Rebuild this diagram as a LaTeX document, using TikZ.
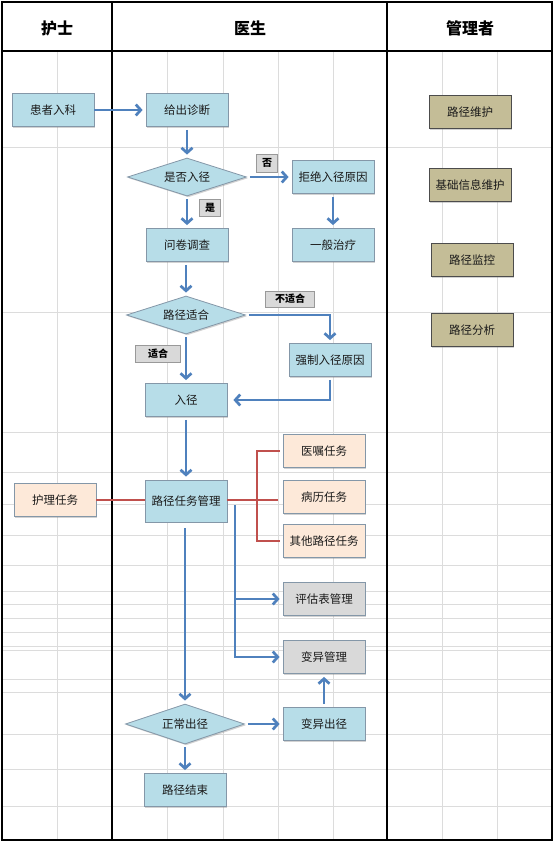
\documentclass[tikz,border=0pt]{standalone}
\usepackage{fontspec}
\setmainfont{Noto Sans CJK SC}
\usetikzlibrary{arrows.meta,shapes.geometric,shadows}
\definecolor{boxblue}{HTML}{B7DDE8}
\definecolor{boxpeach}{HTML}{FDE9D9}
\definecolor{boxgrey}{HTML}{D9D9D9}
\definecolor{boxkhaki}{HTML}{C4BD97}
\definecolor{boxborder}{HTML}{8497A8}
\definecolor{arrowblue}{HTML}{4F81BD}
\definecolor{redline}{HTML}{C0504D}
\definecolor{gridgrey}{HTML}{DCDCDC}
\definecolor{txt}{HTML}{1A1A1A}
\begin{document}
\begin{tikzpicture}[x=1pt,y=-1pt,
  box/.style={draw=boxborder, line width=0.8pt, minimum width=82pt, minimum height=33pt,
    inner sep=0pt, text=txt, font=\fontsize{11.5}{13}\selectfont,
    drop shadow={shadow xshift=1.3pt,shadow yshift=-1.3pt,opacity=0.35}},
  bluebox/.style={box, fill=boxblue},
  peachbox/.style={box, fill=boxpeach},
  greybox/.style={box, fill=boxgrey},
  khakibox/.style={box, fill=boxkhaki, draw=gray!60!black},
  dia/.style={diamond, aspect=3, draw=boxborder, line width=0.8pt, fill=boxblue,
    minimum width=119pt, minimum height=38pt, inner sep=0pt, text=txt,
    font=\fontsize{11.5}{13}\selectfont,
    drop shadow={shadow xshift=1.3pt,shadow yshift=-1.3pt,opacity=0.35}},
  lab/.style={draw=gray!80, line width=0.6pt, fill=boxgrey, text=black,
    font=\bfseries\fontsize{10}{12}\selectfont, inner sep=0pt, minimum height=17pt},
  arr/.style={draw=arrowblue, line width=2.7pt, -{Straight Barb[length=5pt,width=11pt]},
    shorten <=3pt, shorten >=3pt},
  redl/.style={draw=redline, line width=2.2pt},
  hdr/.style={font=\bfseries\fontsize{16}{18}\selectfont, text=black},
  grid/.style={draw=gridgrey, line width=0.8pt}
]
\useasboundingbox (0,0) rectangle (554,843);
\fill[white] (0,0) rectangle (554,843);

% spreadsheet grid
\foreach \gx in {57,167,223,278,333,442,497}
  \draw[grid] (\gx,51) -- (\gx,840);
\foreach \gy in {147,312,432,472,504,535,565,591,604,618,632,646,650,679,692,734,769,806}
  \draw[grid] (2,\gy) -- (552,\gy);

% frame
\draw[line width=1.8pt, black] (2,2) rectangle (552,840);
\draw[line width=1.8pt, black] (2,51) -- (552,51);
\draw[line width=1.8pt, black] (112,2) -- (112,840);
\draw[line width=1.8pt, black] (387,2) -- (387,840);

% headers
\node[hdr] (h1) at (57,28) {护士};
\node[hdr] (h2) at (250,28) {医生};
\node[hdr] (h3) at (470,28) {管理者};

% nodes
\node[bluebox] (hzrk) at (53,110) {患者入科};
\node[bluebox] (gczd) at (187,110) {给出诊断};
\node[dia] (sfrj) at (187,177) {是否入径};
\node[bluebox] (jjyy) at (333,177) {拒绝入径原因};
\node[bluebox] (wjdc) at (187,245) {问卷调查};
\node[bluebox] (ybzl) at (333,245) {一般治疗};
\node[dia] (ljsh) at (186,315) {路径适合};
\node[bluebox] (qzyy) at (330,360) {强制入径原因};
\node[bluebox] (rj) at (186,400) {入径};
\node[bluebox, minimum height=42pt] (rwgl) at (186,501) {路径任务管理};
\node[peachbox] (hlrw) at (55,500) {护理任务};
\node[peachbox] (yzrw) at (324,451) {医嘱任务};
\node[peachbox] (blrw) at (324,497) {病历任务};
\node[peachbox] (qtrw) at (324,541) {其他路径任务};
\node[greybox] (pgb) at (324,599) {评估表管理};
\node[greybox] (bygl) at (324,657) {变异管理};
\node[dia, minimum height=40pt] (zccj) at (185,724) {正常出径};
\node[bluebox] (bycj) at (324,724) {变异出径};
\node[bluebox] (ljjs) at (185,790) {路径结束};

\node[khakibox] (ljwh) at (470,112) {路径维护};
\node[khakibox] (jcxx) at (470,185) {基础信息维护};
\node[khakibox] (ljjk) at (472,260) {路径监控};
\node[khakibox] (ljfx) at (472,330) {路径分析};

% labels
\node[lab, minimum width=21pt, minimum height=18pt] (lfou) at (267,163) {否};
\node[lab, minimum width=21pt] (lshi) at (210,208) {是};
\node[lab, minimum width=49pt, minimum height=16pt] (lbsh) at (290,299) {不适合};
\node[lab, minimum width=45pt] (lsh) at (158,354) {适合};

% blue connectors
\draw[arr, shorten <=0pt] (hzrk.east) -- (gczd.west);
\draw[arr] (gczd.south) -- (sfrj.north);
\draw[arr] (sfrj.east) -- (jjyy.west);
\draw[arr] (sfrj.south) -- (wjdc.north);
\draw[arr] (jjyy.south) -- (ybzl.north);
\draw[arr] (wjdc.south -| ljsh.north) -- (ljsh.north);
\draw[arr] (ljsh.east) -| (qzyy.north);
\draw[arr] (ljsh.south) -- (rj.north);
\draw[arr, shorten >=6pt] (qzyy.south) |- (rj.east);
\draw[arr] (rj.south) -- (rwgl.north);
\coordinate (tap) at (235,505);
\draw[arr, shorten <=0pt] (tap) |- (bygl.west);
\draw[arr, shorten <=0pt] (tap |- pgb.west) -- (pgb.west);
\draw[arr, shorten <=6pt] (rwgl.south -| zccj.north) -- (zccj.north);
\draw[arr] (zccj.east) -- (bycj.west);
\draw[arr] (bycj.north) -- (bygl.south);
\draw[arr] (zccj.south) -- (ljjs.north);

% red connectors
\coordinate (bus) at (257,500);
\draw[redl] (hlrw.east) -- (hlrw.east -| rwgl.west);
\draw[redl] (rwgl.east |- bus) -- ([xshift=-5pt]blrw.west |- bus);
\draw[redl, shorten <=3pt] (yzrw.west) -| (bus) |- ([xshift=-3pt]qtrw.west);
\end{tikzpicture}
\end{document}
